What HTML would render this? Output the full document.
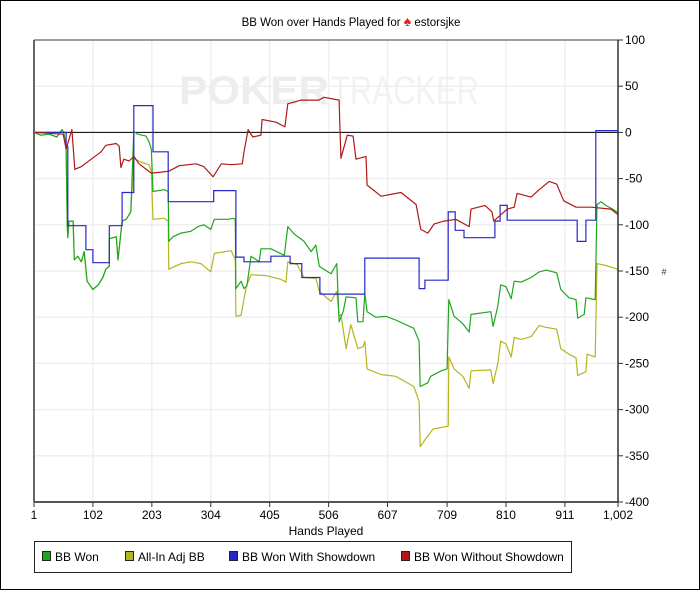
<!DOCTYPE html>
<html><head><meta charset="utf-8">
<style>
html,body{margin:0;padding:0;background:#fff;}
#wrap{position:relative;width:698px;height:588px;border:1px solid #000;overflow:hidden;font-family:"Liberation Sans",sans-serif;}
svg{position:absolute;left:0;top:0;}
</style></head>
<body>
<div id="wrap">
<svg id="chart" width="700" height="590"></svg>
</div>
<script>
const xTicks=[1,102,203,304,405,506,607,709,810,911,1002];
const xTickLabels=["1","102","203","304","405","506","607","709","810","911","1,002"];
const yTicks=[100,50,0,-50,-100,-150,-200,-250,-300,-350,-400];
const yTickLabels=["100","50","0","-50","-100","-150","-200","-250","-300","-350","-400"];

const greenHands=[1,13,27,40,49,52,56,58,59,61,68,70,76,82,87,92,102,111,119,124,130,130,142,145,152,159,167,172,179,193,198,202,205,224,231,232,239,253,270,282,292,304,310,334,342,346,347,356,361,366,373,387,390,407,430,436,447,464,476,484,490,510,520,524,531,536,553,556,565,568,572,587,604,621,652,661,663,676,681,699,709,712,721,736,747,750,784,788,796,801,810,819,824,836,853,867,879,897,904,918,930,933,944,947,963,966,973,981,993,1002];
const greenValues=[0,-3,-2,-5,3,0,-18,-102,-114,-96,-96,-138,-134,-140,-129,-161,-170,-165,-157,-148,-145,-115,-113,-138,-96,-94,-86,1,-2,-4,-10,-18,-64,-62,-64,-118,-113,-109,-107,-102,-100,-105,-94,-94,-93,-94,-169,-161,-169,-166,-134,-140,-126,-126,-133,-102,-110,-118,-129,-122,-145,-153,-142,-205,-194,-178,-179,-205,-205,-174,-194,-200,-199,-203,-212,-226,-275,-271,-264,-258,-256,-181,-199,-207,-216,-197,-194,-210,-188,-165,-167,-180,-161,-162,-157,-151,-149,-152,-170,-179,-181,-201,-197,-179,-181,-78,-75,-79,-83,-87];

const yellowHands=[1,13,27,40,49,52,56,58,59,61,68,70,76,82,87,92,102,111,119,124,130,130,142,145,152,159,167,172,184,198,202,205,224,231,232,253,270,287,304,310,339,346,347,356,361,366,373,399,424,433,436,452,464,484,490,510,520,524,527,536,544,556,565,568,572,596,621,652,661,663,673,685,711,712,721,736,747,750,784,788,796,801,810,819,824,836,853,867,879,897,904,918,930,933,947,949,963,966,981,1002];
const yellowValues=[0,-3,-2,-5,3,0,-18,-102,-114,-96,-96,-138,-134,-140,-129,-161,-170,-165,-157,-148,-145,-115,-113,-138,-96,-94,-86,-28,-32,-35,-42,-94,-93,-96,-148,-142,-140,-142,-151,-131,-128,-138,-199,-198,-180,-165,-154,-155,-159,-162,-140,-143,-157,-158,-172,-183,-172,-199,-197,-234,-208,-234,-232,-226,-256,-262,-264,-275,-291,-340,-331,-321,-318,-243,-256,-264,-277,-258,-257,-272,-250,-226,-229,-243,-222,-224,-221,-209,-211,-213,-234,-240,-244,-263,-259,-240,-243,-142,-144,-148];

const blueHands=[1,56,59,90,102,130,152,172,205,231,309,347,361,407,440,460,491,568,661,671,711,723,738,791,800,812,932,947,964,1002];
const blueValues=[0,-15,-101,-127,-141,-101,-65,29,-21,-75,-63,-135,-140,-134,-142,-157,-175,-136,-169,-160,-86,-106,-114,-96,-79,-95,-118,-95,2,2];

const redHands=[1,51,56,66,71,82,99,116,124,142,147,150,155,164,172,181,202,219,232,250,279,292,308,322,339,358,361,368,376,390,392,416,431,436,459,489,498,524,527,538,548,553,570,572,596,630,656,664,676,687,704,724,747,750,774,786,789,812,824,829,853,867,884,897,909,930,956,990,1002];
const redValues=[0,-2,-18,3,-40,-37,-29,-21,-14,-12,-15,-38,-29,-31,-26,-34,-44,-43,-42,-36,-34,-37,-48,-34,-35,-34,-21,3,-5,-3,14,11,6,31,35,35,38,35,-28,-3,-4,-29,-26,-57,-69,-65,-78,-105,-109,-99,-96,-94,-102,-83,-79,-86,-96,-83,-81,-66,-70,-62,-53,-56,-74,-81,-81,-83,-89];

const L=33,R=617,T=39,B=501;
function xScale(h){return L+(h-1)/(1002-1)*(R-L);}
function yScale(v){return B-(v+400)/500*(B-T);}
const NS="http://www.w3.org/2000/svg";
const svg=document.getElementById('chart');
function mk(tag,attrs,parent){const e=document.createElementNS(NS,tag);for(const k in attrs)e.setAttribute(k,attrs[k]);(parent||svg).appendChild(e);return e;}

// title
const title=mk('text',{x:350,y:25,'text-anchor':'middle','font-size':11.5,fill:'#000','font-family':'Liberation Sans, sans-serif'});


title.textContent='BB Won over Hands Played for ';
const spade=mk('tspan',{fill:'#e02020','font-size':14},title);
spade.textContent='\u2660';
const tn=mk('tspan',{},title);
tn.textContent=' estorsjke';

// watermark
const wm1=mk('text',{x:178,y:103,'font-size':40,'font-weight':'bold',fill:'#ededed','font-family':'Liberation Sans, sans-serif',textLength:150,lengthAdjust:'spacingAndGlyphs'});


wm1.textContent='POKER';
const wm2=mk('text',{x:330,y:103,'font-size':40,fill:'#f2f2f2','font-family':'Liberation Sans, sans-serif',textLength:148,lengthAdjust:'spacingAndGlyphs'});


wm2.textContent='TRACKER';

// grid
const grid=mk('g',{});


xTicks.forEach(h=>{const x=xScale(h);mk('line',{x1:x,x2:x,y1:T,y2:B,stroke:'#efefef','stroke-width':1.5},grid);});
yTicks.forEach(v=>{const y=yScale(v);mk('line',{x1:L,x2:R,y1:y,y2:y,stroke:'#efefef','stroke-width':1.5},grid);});

// zero line
const zl=mk('line',{x1:L,x2:R,y1:yScale(0),y2:yScale(0),stroke:'#000','stroke-width':1});



// series
function drawSeries(hands,vals,color,name){
  const pts=hands.map((h,i)=>xScale(h).toFixed(1)+','+yScale(vals[i]).toFixed(1)).join(' ');
  const p=mk('polyline',{points:pts,fill:'none',stroke:color,'stroke-width':1.2,'stroke-linejoin':'round'});
  
  
}
function drawStep(hands,vals,color,name){
  let pts=[];
  hands.forEach((h,i)=>{const x=xScale(h);if(i>0)pts.push(x.toFixed(1)+','+yScale(vals[i-1]).toFixed(1));pts.push(x.toFixed(1)+','+yScale(vals[i]).toFixed(1));});
  const p=mk('polyline',{points:pts.join(' '),fill:'none',stroke:color,'stroke-width':1.2});
  
  
}
drawSeries(yellowHands,yellowValues,'#b5b520','all-in-adj-bb-line');
drawSeries(greenHands,greenValues,'#1fa61f','bb-won-line');
drawStep(blueHands,blueValues,'#2828c8','bb-won-with-showdown-line');
drawSeries(redHands,redValues,'#b01818','bb-won-without-showdown-line');

// frame/axes
const ax=mk('g',{});


mk('line',{x1:L,x2:R,y1:T,y2:T,stroke:'#444','stroke-width':1},ax);
mk('line',{x1:L,x2:L,y1:T,y2:B,stroke:'#666','stroke-width':2},ax);
mk('line',{x1:L,x2:R,y1:B,y2:B,stroke:'#555','stroke-width':2},ax);
mk('line',{x1:R,x2:R,y1:T,y2:B,stroke:'#333','stroke-width':1.5},ax);
xTicks.forEach((h,i)=>{const x=xScale(h);mk('line',{x1:x,x2:x,y1:B,y2:B+5,stroke:'#333'},ax);
  const t=mk('text',{x:x,y:B+17,'text-anchor':'middle','font-size':12,fill:'#000'},ax);
  
  
  t.textContent=xTickLabels[i];});
yTicks.forEach((v,i)=>{const y=yScale(v);mk('line',{x1:R,x2:R+5,y1:y,y2:y,stroke:'#333'},ax);
  const t=mk('text',{x:R+7,y:y+4,'font-size':12,fill:'#000'},ax);
  
  
  t.textContent=yTickLabels[i];});
const xt=mk('text',{x:325,y:534,'text-anchor':'middle','font-size':12,fill:'#000'});


xt.textContent='Hands Played';
const yt=mk('text',{x:663,y:274,'text-anchor':'middle','font-size':9,fill:'#333'});


yt.textContent='#';

// legend
const lg=mk('g',{});


mk('rect',{x:33.5,y:540.5,width:537,height:31,fill:'#fff',stroke:'#222','stroke-width':1},lg);
const legendNames=['BB Won','All-In Adj BB','BB Won With Showdown','BB Won Without Showdown'];
const legendColors=['#1fa61f','#b5b520','#2828c8','#b01818'];
const legendX=[41,124,228,400];
legendNames.forEach((n,i)=>{
  const g=mk('g',{},lg);
  
  
  mk('rect',{x:legendX[i]+0.5,y:550.5,width:8,height:9,fill:legendColors[i],stroke:'#222','stroke-width':1},g);
  const t=mk('text',{x:legendX[i]+13,y:560,'font-size':12,fill:'#000'},g);
  t.textContent=n;
});
</script>
</body></html>
